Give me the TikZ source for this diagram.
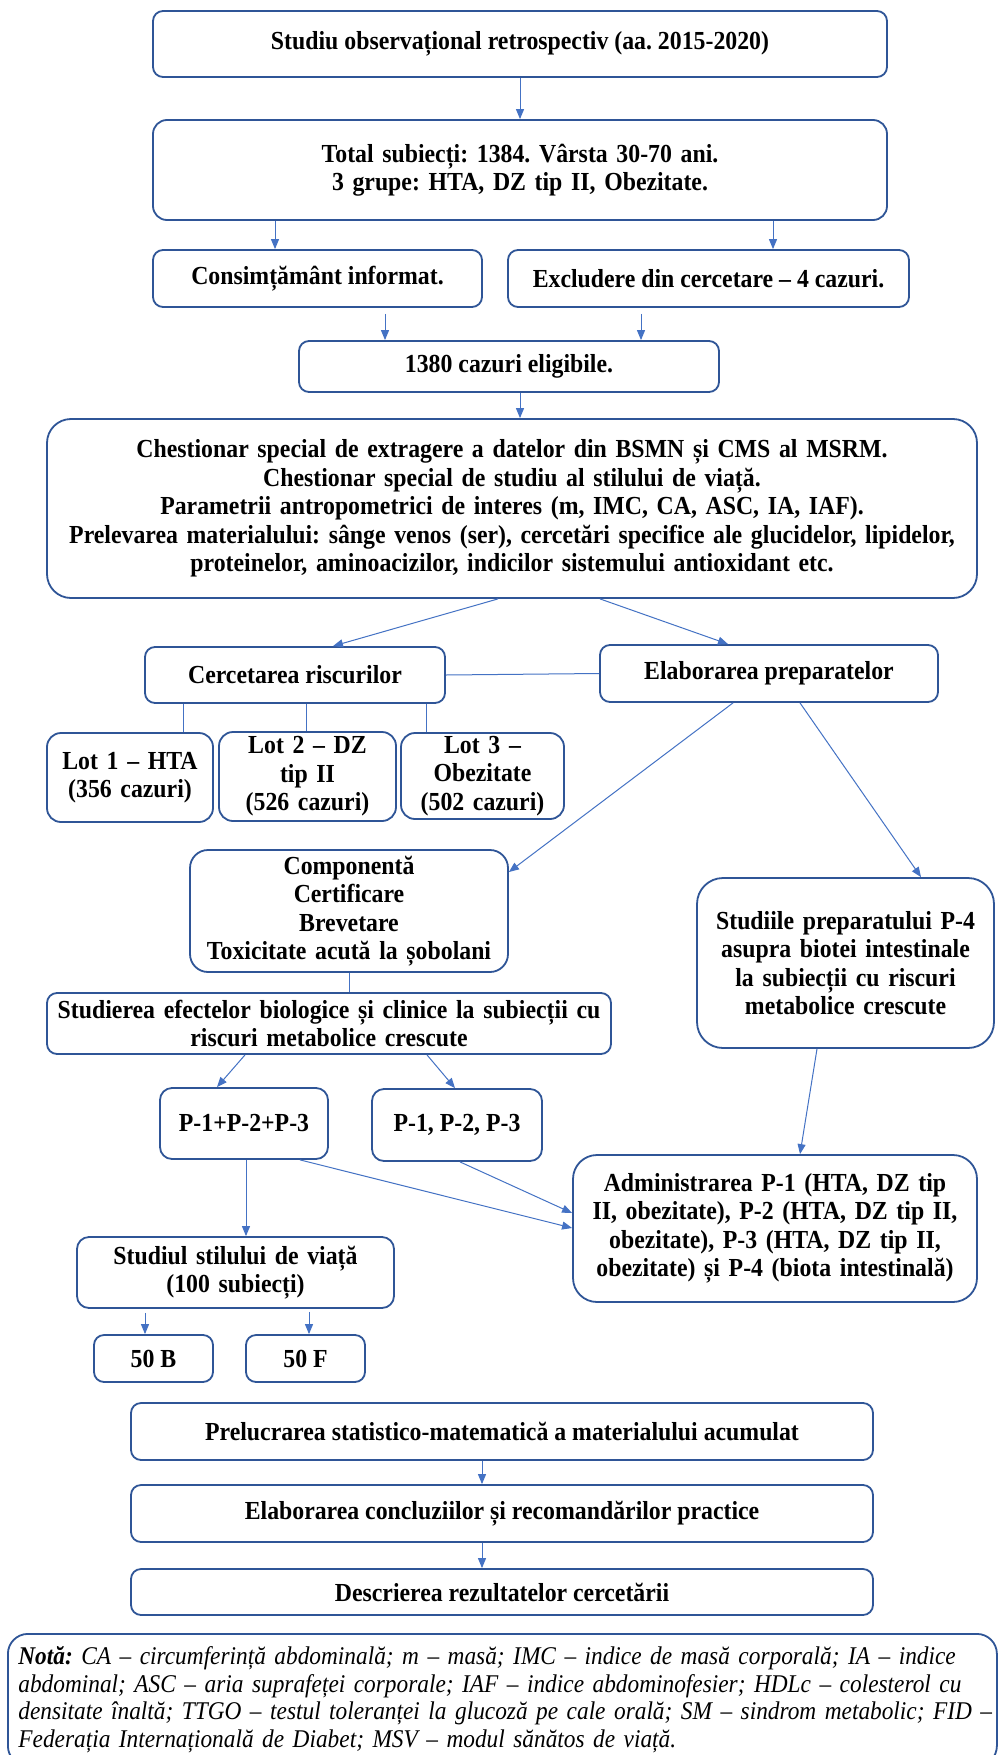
\documentclass[tikz,border=0pt]{standalone}
\usepackage{fontspec}
\setmainfont{Liberation Serif}[FakeStretch=0.915]
\usetikzlibrary{arrows.meta,calc}
\definecolor{bcol}{RGB}{47,85,151}
\definecolor{acol}{RGB}{68,114,196}
\frenchspacing
\begin{document}
\begin{tikzpicture}[x=1pt,y=-1pt,
  box/.style={draw=bcol, line width=1.8pt, rounded corners=10pt, align=center, inner sep=0pt, fill=white,
    font=\bfseries\fontsize{26}{28.5}\selectfont},
  arr/.style={draw=acol, line width=1pt, -{Triangle[length=10pt,width=8pt]}},
  ln/.style={draw=acol, line width=1pt}]
\useasboundingbox (0,0) rectangle (998,1755);
\fill[white] (0,0) rectangle (998,1755);
\clip (0,0) rectangle (998,1755);

% helper coordinates
\foreach \x in {145,183,217,245,246,275,300,306,309,333,385,426,427,455,460,482,498,520,600,641,728,733,773,800,817,921}
  {\coordinate (x\x) at (\x,0);}
\foreach \y in {872,1213,1228}
  {\coordinate (y\y) at (0,\y);}

% nodes
\node[box, minimum width=734pt, minimum height=66pt] (n1) at (520,44)
  {Studiu observațional retrospectiv (aa. 2015-2020)};
\node[box, minimum width=734pt, minimum height=100pt, text width=700pt, rounded corners=14pt] (n2) at (520,170)
  {Total subiecți: 1384. Vârsta 30-70 ani.\\3 grupe: HTA, DZ tip II, Obezitate.};
\node[box, minimum width=329pt, minimum height=57pt] (n3a) at (317.5,278.5)
  {Consimțământ informat.};
\node[box, minimum width=401pt, minimum height=57pt] (n3b) at (708.5,278.5)
  {Excludere din cercetare – 4 cazuri.};
\node[box, minimum width=420pt, minimum height=51pt] (n4) at (509,366.5)
  {1380 cazuri eligibile.};
\node[box, minimum width=930pt, minimum height=179pt, text width=924pt, rounded corners=24pt] (n5) at (512,508.5)
  {Chestionar special de extragere a datelor din BSMN și CMS al MSRM.\\
   Chestionar special de studiu al stilului de viață.\\
   Parametrii antropometrici de interes (m, IMC, CA, ASC, IA, IAF).\\
   Prelevarea materialului: sânge venos (ser), cercetări specifice ale glucidelor, lipidelor,\\
   proteinelor, aminoacizilor, indicilor sistemului antioxidant etc.};
\node[box, minimum width=300pt, minimum height=56pt] (n6a) at (295,675)
  {Cercetarea riscurilor};
\node[box, minimum width=338pt, minimum height=57pt] (n6b) at (769,673.5)
  {Elaborarea preparatelor};
\node[box, minimum width=166pt, minimum height=89pt, text width=162pt, rounded corners=14pt] (lot1) at (130,777.5)
  {Lot 1 – HTA\\(356 cazuri)};
\node[box, minimum width=177pt, minimum height=89pt, text width=172pt, rounded corners=14pt] (lot2) at (307.5,776.5)
  {Lot 2 – DZ\\tip II\\(526 cazuri)};
\node[box, minimum width=163pt, minimum height=86pt, text width=159pt, rounded corners=14pt] (lot3) at (482.5,776)
  {Lot 3 –\\Obezitate\\(502 cazuri)};
\node[box, minimum width=318pt, minimum height=122pt, text width=314pt, rounded corners=18pt] (comp) at (349,911)
  {Componentă\\Certificare\\Brevetare\\Toxicitate acută la șobolani};
\node[box, minimum width=297pt, minimum height=170pt, text width=292pt, rounded corners=26pt] (stud4) at (845.5,963)
  {Studiile preparatului P-4\\asupra biotei intestinale\\la subiecții cu riscuri\\metabolice crescute};
\node[box, minimum width=564pt, minimum height=61pt, text width=560pt] (studE) at (329,1023.5)
  {Studierea efectelor biologice și clinice la subiecții cu\\riscuri metabolice crescute};
\node[box, minimum width=168pt, minimum height=71pt, rounded corners=12pt] (pA) at (244,1123.5)
  {P-1+P-2+P-3};
\node[box, minimum width=170pt, minimum height=72pt, rounded corners=12pt] (pB) at (457,1125)
  {P-1, P-2, P-3};
\node[box, minimum width=404pt, minimum height=147pt, text width=400pt, rounded corners=24pt] (adm) at (775,1228.5)
  {Administrarea P-1 (HTA, DZ tip\\II, obezitate), P-2 (HTA, DZ tip II,\\obezitate), P-3 (HTA, DZ tip II,\\obezitate) și P-4 (biota intestinală)};
\node[box, minimum width=317pt, minimum height=71pt, text width=312pt, rounded corners=12pt] (stil) at (235.5,1272.5)
  {Studiul stilului de viață\\(100 subiecți)};
\node[box, minimum width=119pt, minimum height=47pt] (b50) at (153.5,1358.5) {50 B};
\node[box, minimum width=119pt, minimum height=47pt] (f50) at (305.5,1358.5) {50 F};
\node[box, minimum width=742pt, minimum height=57pt] (prel) at (502,1431.5)
  {Prelucrarea statistico-matematică a materialului acumulat};
\node[box, minimum width=742pt, minimum height=57pt] (conc) at (502,1513.5)
  {Elaborarea concluziilor și recomandărilor practice};
\node[box, minimum width=742pt, minimum height=46pt] (desc) at (502,1592)
  {Descrierea rezultatelor cercetării};
\node[box, anchor=north west, minimum height=132pt, rounded corners=20pt, inner xsep=10.5pt,
      text width=968pt, align=left, font=\mdseries\itshape\fontsize{25.5}{27.5}\selectfont] (nota) at (7,1633)
  {\makebox[968pt][s]{\textbf{Notă:} CA – circumferință abdominală; m – masă; IMC – indice de masă corporală; IA – indice}\\
   \makebox[968pt][s]{abdominal; ASC – aria suprafeței corporale; IAF – indice abdominofesier; HDLc – colesterol cu}\\
   \makebox[968pt][s]{densitate înaltă; TTGO – testul toleranței la glucoză pe cale orală; SM – sindrom metabolic; FID –}\\
   Federația Internațională de Diabet; MSV – modul sănătos de viață.};

% connectors
\draw[arr] (n1.south -| x520) -- (n2.north -| x520);
\draw[arr] (n2.south -| x275) -- (n3a.north -| x275);
\draw[arr] (n2.south -| x773) -- (n3b.north -| x773);
\draw[arr, shorten <=6pt] (n3a.south -| x385) -- (n4.north -| x385);
\draw[arr, shorten <=6pt] (n3b.south -| x641) -- (n4.north -| x641);
\draw[arr] (n4.south -| x520) -- (n5.north -| x520);
\draw[arr] (n5.south -| x498) -- (n6a.north -| x333);
\draw[arr] (n5.south -| x600) -- (n6b.north -| x728);
\draw[ln] (n6a.east) -- (n6b.west);
\draw[ln] (n6a.south -| x183) -- (lot1.north -| x183);
\draw[ln] (n6a.south -| x306) -- (lot2.north -| x306);
\draw[ln] (n6a.south -| x426) -- (lot3.north -| x426);
\draw[arr] (n6b.south -| x733) -- (comp.east |- y872);
\draw[arr] (n6b.south -| x800) -- (stud4.north -| x921);
\draw[ln] (comp.south) -- (comp.south |- studE.north);
\draw[arr] (studE.south -| x245) -- (pA.north -| x217);
\draw[arr] (studE.south -| x427) -- (pB.north -| x455);
\draw[arr] (pA.south -| x300) -- (adm.west |- y1228);
\draw[arr] (pB.south -| x460) -- (adm.west |- y1213);
\draw[arr] (stud4.south -| x817) -- (adm.north -| x800);
\draw[arr] (pA.south -| x246) -- (stil.north -| x246);
\draw[arr, shorten <=4pt] (stil.south -| x145) -- (b50.north -| x145);
\draw[arr, shorten <=3pt] (stil.south -| x309) -- (f50.north -| x309);
\draw[arr] (prel.south -| x482) -- (conc.north -| x482);
\draw[arr] (conc.south -| x482) -- (desc.north -| x482);
\end{tikzpicture}
\end{document}
